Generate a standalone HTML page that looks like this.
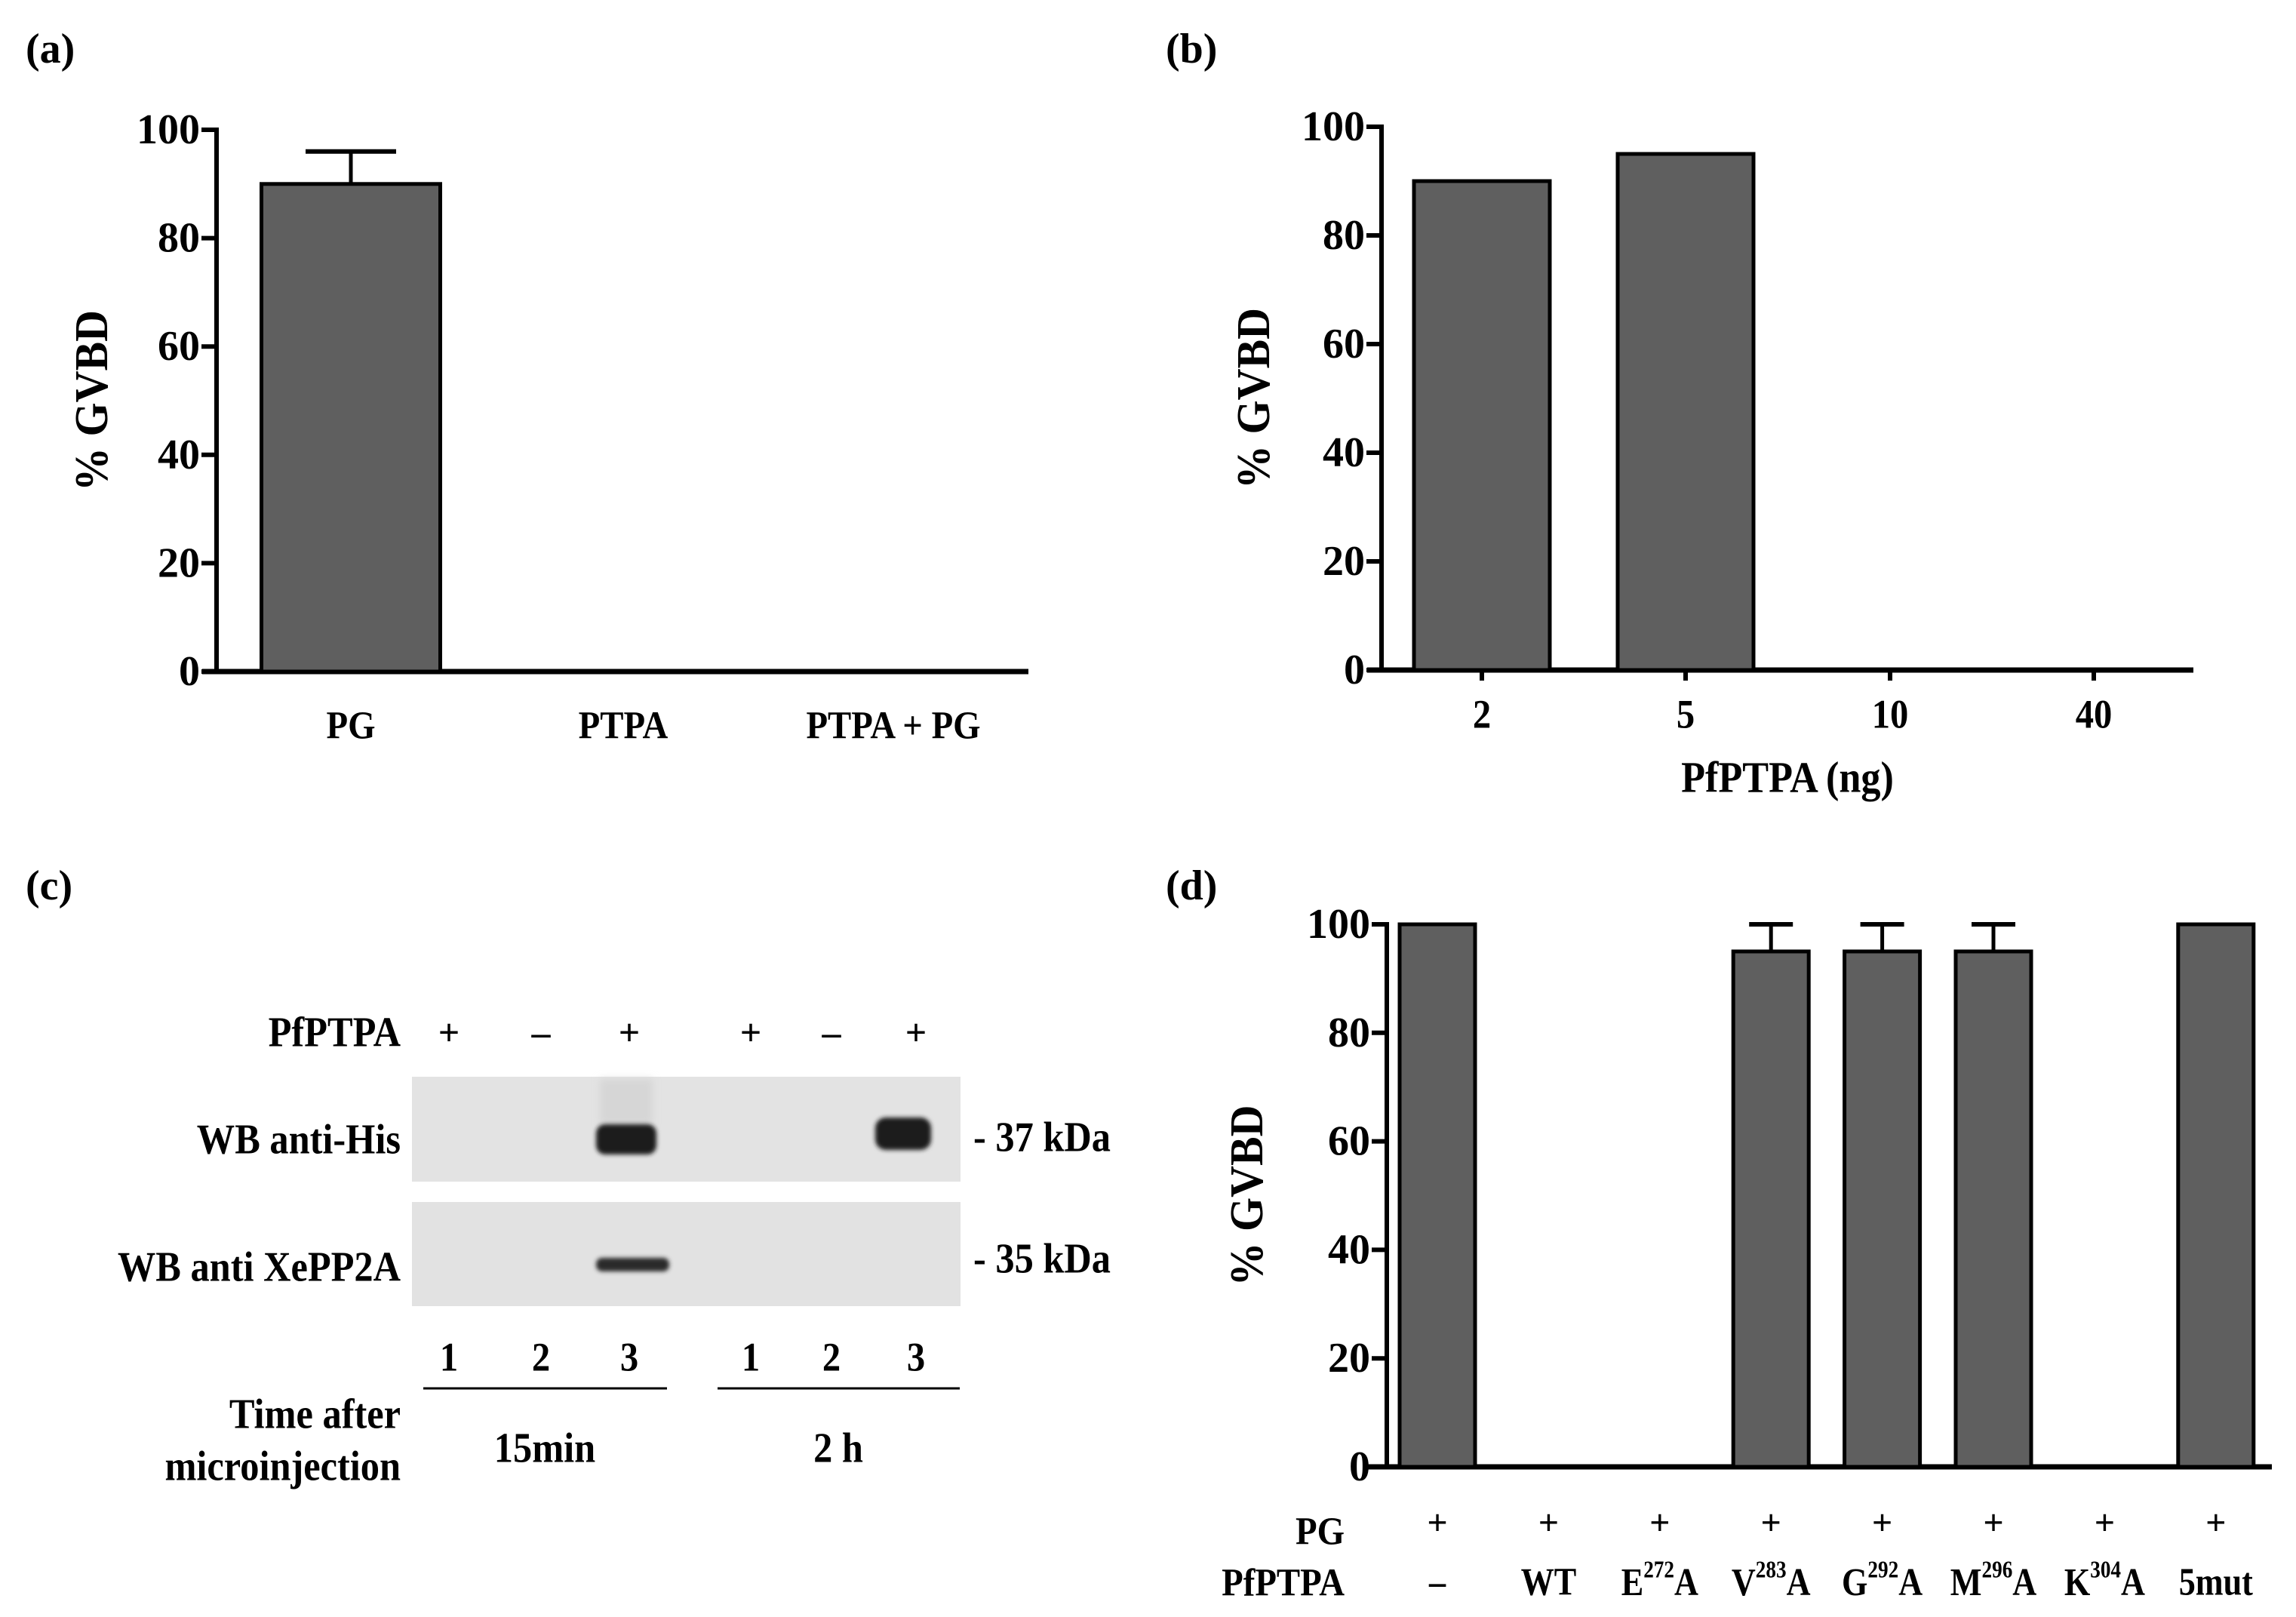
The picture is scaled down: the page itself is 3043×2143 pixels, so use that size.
<!DOCTYPE html>
<html><head><meta charset="utf-8"><style>
html,body{margin:0;padding:0;background:#fff;}
svg{display:block;}
text{font-family:"Liberation Serif",serif;font-weight:bold;fill:#000;}
</style></head><body>
<svg id="fig" xmlns="http://www.w3.org/2000/svg" width="3043" height="2143" viewBox="0 0 3043 2143">
<defs>
<filter id="blur6" x="-30%" y="-60%" width="160%" height="220%"><feGaussianBlur stdDeviation="5"/></filter>
<filter id="blur3" x="-30%" y="-60%" width="160%" height="220%"><feGaussianBlur stdDeviation="3"/></filter>
</defs>
<g id="pa"></g>
<g id="pb"></g>
<g id="pc">
  <rect x="546" y="1427" width="727" height="139" fill="#e3e3e3"/>
  <rect x="546" y="1593" width="727" height="138" fill="#e2e2e2"/>
  <rect x="795" y="1430" width="70" height="60" fill="#d6d6d6" filter="url(#blur6)"/>
  <rect x="790" y="1490" width="80" height="40" rx="12" fill="#1e1e1e" filter="url(#blur3)"/>
  <rect x="1160" y="1481" width="74" height="43" rx="14" fill="#1a1a1a" filter="url(#blur3)"/>
  <rect x="790" y="1667" width="97" height="18" rx="8" fill="#2a2a2a" filter="url(#blur3)"/>
</g>
<g id="pd"></g>
</svg>
<script>
// ---------- data ----------
const aCategories = ["PG", "PTPA", "PTPA + PG"];
const aValues = [90, 0, 0];
const aErrors = [6, 0, 0];
const bCategories = ["2", "5", "10", "40"];
const bValues = [90, 95, 0, 0];
const yTicks = [0, 20, 40, 60, 80, 100];
const dPG = ["+", "+", "+", "+", "+", "+", "+", "+"];
const dCategories = ["–", "WT", "E|272|A", "V|283|A", "G|292|A", "M|296|A", "K|304|A", "5mut"];
const dValues = [100, 0, 0, 95, 95, 95, 0, 100];
const dErrors = [0, 0, 0, 5, 5, 5, 0, 0];
const cSigns = ["+", "–", "+", "+", "–", "+"];
const cLanes = ["1", "2", "3", "1", "2", "3"];

const NS = "http://www.w3.org/2000/svg";
function el(parent, tag, attrs) {
  const e = document.createElementNS(NS, tag);
  for (const k in attrs) e.setAttribute(k, attrs[k]);
  parent.appendChild(e);
  return e;
}
function T(parent, x, y, str, size, anchor, sx, name) {
  const t = el(parent, "text", {transform: "translate(" + x + "," + y + ") scale(" + sx + ",1)", "font-size": size, "text-anchor": anchor, "dominant-baseline": "central"});
  t.textContent = str;
  
  
  return t;
}
function line(parent, x1, y1, x2, y2, w, name) {
  const l = el(parent, "line", {x1: x1, y1: y1, x2: x2, y2: y2, stroke: "#000", "stroke-width": w});
  
  
  return l;
}
function yAxis(g, ax, y0, y100, x0, xEnd, labelX) {
  const sy = v => y0 - (y0 - y100) * v / 100;
  line(g, ax, sy(100) - 3, ax, y0 + 3, 6, "y-axis-line");
  line(g, x0, y0, xEnd, y0, 7, "x-axis-line");
  yTicks.forEach(v => {
    line(g, ax - 20, sy(v), ax, sy(v), 6, "y-tick");
    T(g, ax - 22, sy(v), String(v), 56, "end", 1, "y-tick-label");
  });
  const yl = el(g, "text", {transform: "translate(" + labelX + "," + (y0 + y100) / 2 + ") rotate(-90)", "font-size": 62, "text-anchor": "middle", "dominant-baseline": "central", textLength: 240, lengthAdjust: "spacingAndGlyphs"});
  yl.textContent = "% GVBD";
  
  
  return sy;
}
function bar(g, cx, w, v, sy, y0, name) {
  if (v <= 0) return;
  const r = el(g, "rect", {x: cx - w / 2, y: sy(v), width: w, height: y0 - sy(v), fill: "#5f5f5f", stroke: "#000", "stroke-width": 5});
  
  
}
function errBar(g, cx, v, e, sy, cap, name) {
  if (e <= 0) return;
  line(g, cx, sy(v), cx, sy(v + e), 5, name);
  line(g, cx - cap / 2, sy(v + e), cx + cap / 2, sy(v + e), 6, name + "-cap");
}

// ---------- panel a ----------
(function () {
  const g = document.getElementById("pa");
  T(g, 34, 65, "(a)", 56, "start", 1, "panel-label-a");
  const y0 = 890, y100 = 172;
  const sy = yAxis(g, 287, y0, y100, 268, 1363, 122);
  const cx = [465, 826, 1184];
  aCategories.forEach((c, i) => {
    bar(g, cx[i], 237, aValues[i], sy, y0, "bar-" + c.toLowerCase().replace(/[^a-z]+/g, "-"));
    errBar(g, cx[i], aValues[i], aErrors[i], sy, 120, "error-bar");
    T(g, cx[i], 961, c, 52, "middle", 0.9, "x-tick-label");
  });
})();

// ---------- panel b ----------
(function () {
  const g = document.getElementById("pb");
  T(g, 1545, 65, "(b)", 56, "start", 1, "panel-label-b");
  const y0 = 888, y100 = 168;
  const sy = yAxis(g, 1831, y0, y100, 1812, 2907, 1662);
  const cx = [1964, 2234, 2505, 2775];
  bCategories.forEach((c, i) => {
    bar(g, cx[i], 180, bValues[i], sy, y0, "bar-" + c + "ng");
    line(g, cx[i], y0, cx[i], y0 + 14, 6, "x-tick");
    T(g, cx[i], 947, c, 54, "middle", 0.9, "x-tick-label");
  });
  T(g, 2369, 1030, "PfPTPA (ng)", 58, "middle", 0.9, "x-axis-title");
})();

// ---------- panel c ----------
(function () {
  const g = document.getElementById("pc");
  T(g, 34, 1174, "(c)", 56, "start", 1, "panel-label-c");
  T(g, 531, 1368, "PfPTPA", 56, "end", 0.9, "row-label-pfptpa");
  const lx = [595, 717, 834, 995, 1102, 1214];
  cSigns.forEach((s, i) => {
    const t = T(g, lx[i], 1368, s, 50, "middle", 1, "lane-sign");
    t.setAttribute("font-weight", "normal");
  });
  T(g, 531, 1510, "WB anti-His", 56, "end", 0.9, "blot-label-anti-his");
  T(g, 531, 1679, "WB anti XePP2A", 56, "end", 0.9, "blot-label-anti-xepp2a");
  T(g, 1290, 1507, "- 37 kDa", 56, "start", 0.9, "marker-37kda");
  T(g, 1290, 1668, "- 35 kDa", 56, "start", 0.9, "marker-35kda");
  cLanes.forEach((s, i) => { T(g, lx[i], 1799, s, 54, "middle", 0.9, "lane-number"); });
  line(g, 561, 1840, 884, 1840, 3, "group-line-15min");
  line(g, 951, 1840, 1272, 1840, 3, "group-line-2h");
  T(g, 531, 1874, "Time after", 56, "end", 0.9, "time-label");
  T(g, 531, 1943, "microinjection", 56, "end", 0.9, "time-label");
  T(g, 722, 1919, "15min", 56, "middle", 0.9, "group-label-15min");
  T(g, 1111, 1919, "2 h", 56, "middle", 0.9, "group-label-2h");
})();

// ---------- panel d ----------
(function () {
  const g = document.getElementById("pd");
  T(g, 1545, 1174, "(d)", 56, "start", 1, "panel-label-d");
  const y0 = 1944, y100 = 1225;
  const sy = yAxis(g, 1838, y0, y100, 1813, 3011, 1653);
  const cx0 = 1905, step = 147.4;
  T(g, 1782, 2029, "PG", 52, "end", 0.9, "row-label-pg");
  T(g, 1782, 2097, "PfPTPA", 52, "end", 0.9, "row-label-pfptpa");
  dCategories.forEach((c, i) => {
    const cx = cx0 + i * step;
    bar(g, cx, 100, dValues[i], sy, y0, "bar-" + c.replace(/\|/g, "").toLowerCase().replace("–", "control"));
    errBar(g, cx, dValues[i], dErrors[i], sy, 58, "error-bar");
    const p = T(g, cx, 2018, dPG[i], 48, "middle", 1, "pg-sign");
    p.setAttribute("font-weight", "normal");
    const parts = c.split("|");
    const t = T(g, cx, 2097, "", 52, "middle", 0.85, "x-category-label");
    if (parts.length === 3) {
      const a = el(t, "tspan", {}); a.textContent = parts[0];
      const b = el(t, "tspan", {"font-size": 32, dy: -16}); b.textContent = parts[1];
      const d = el(t, "tspan", {dy: 16}); d.textContent = parts[2];
    } else {
      t.textContent = parts[0];
      if (parts[0] === "–") t.setAttribute("font-weight", "normal");
    }
  });
})();
</script>
</body></html>
